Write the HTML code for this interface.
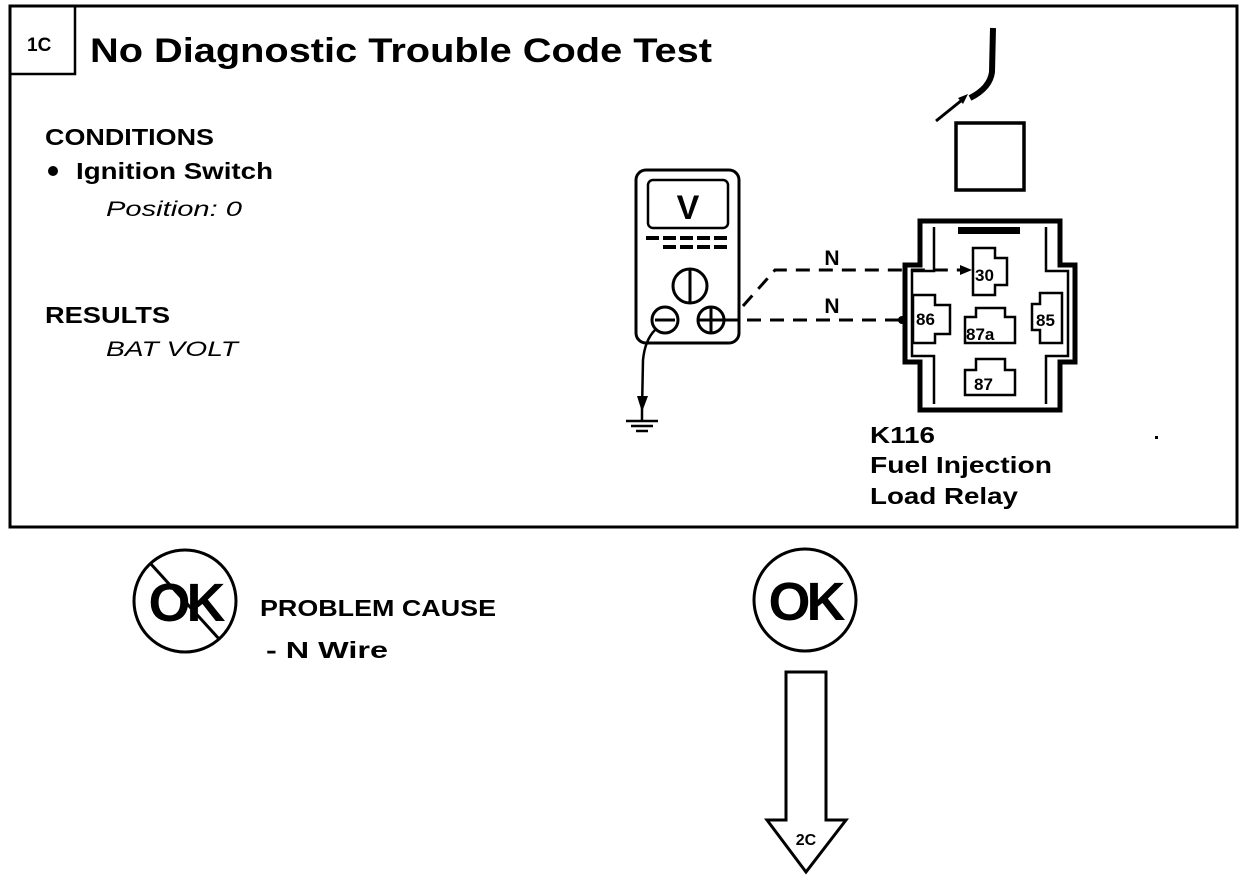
<!DOCTYPE html>
<html><head><meta charset="utf-8"><style>
html,body{margin:0;padding:0;background:#fff;}
svg{display:block;}
text{font-family:"Liberation Sans",Arial,sans-serif;fill:#000;}
</style></head><body>
<svg width="1248" height="880" viewBox="0 0 1248 880" xmlns="http://www.w3.org/2000/svg">
<rect x="10" y="6" width="1227" height="521" fill="none" stroke="#000" stroke-width="3"/>
<rect x="10" y="6" width="65" height="68" fill="none" stroke="#000" stroke-width="2.5"/>
<text x="27" y="51" font-size="19" font-weight="bold">1C</text>
<text x="90" y="62" font-size="34" font-weight="bold" textLength="622" lengthAdjust="spacingAndGlyphs">No Diagnostic Trouble Code Test</text>

<text x="45" y="145" font-size="23" font-weight="bold" textLength="169" lengthAdjust="spacingAndGlyphs">CONDITIONS</text>
<circle cx="53" cy="171" r="5"/>
<text x="76" y="179" font-size="23" font-weight="bold" textLength="197" lengthAdjust="spacingAndGlyphs">Ignition Switch</text>
<text x="106" y="216" font-size="21" font-style="italic" textLength="136" lengthAdjust="spacingAndGlyphs">Position: 0</text>
<text x="45" y="323" font-size="23" font-weight="bold" textLength="125" lengthAdjust="spacingAndGlyphs">RESULTS</text>
<text x="106" y="356" font-size="21" font-style="italic" textLength="132" lengthAdjust="spacingAndGlyphs">BAT VOLT</text>

<path d="M993 28 L992 72 Q990 88 970 98" fill="none" stroke="#000" stroke-width="6"/>
<line x1="936" y1="121" x2="962" y2="100" stroke="#000" stroke-width="3"/>
<polygon points="968,94 958,98 963,104" fill="#000"/>
<rect x="956" y="123" width="68" height="67" fill="none" stroke="#000" stroke-width="3.5"/>

<path d="M920 221 H1060 V265 H1075 V362 H1060 V410 H920 V362 H905 V265 H920 Z" fill="none" stroke="#000" stroke-width="5"/>
<path d="M934 227 V271 H912 V356 H934 V404" fill="none" stroke="#000" stroke-width="2.5"/>
<path d="M1046 227 V271 H1068 V356 H1046 V404" fill="none" stroke="#000" stroke-width="2.5"/>
<rect x="958" y="227" width="62" height="7" fill="#000"/>
<path d="M973 248 H995 V258 H1007 V285 H995 V295 H973 Z" fill="none" stroke="#000" stroke-width="2.5"/>
<text x="975" y="281" font-size="17" font-weight="bold">30</text>
<path d="M913 295 H935 V305 H950 V334 H935 V343 H913 Z" fill="none" stroke="#000" stroke-width="2.5"/>
<text x="916" y="325" font-size="17" font-weight="bold">86</text>
<path d="M1062 293 H1040 V304 H1032 V330 H1040 V343 H1062 Z" fill="none" stroke="#000" stroke-width="2.5"/>
<text x="1036" y="326" font-size="17" font-weight="bold">85</text>
<path d="M965 343 V317 H976 V308 H1005 V317 H1015 V343 Z" fill="none" stroke="#000" stroke-width="2.5"/>
<text x="966" y="340" font-size="17" font-weight="bold">87a</text>
<path d="M965 395 V370 H976 V359 H1005 V370 H1015 V395 Z" fill="none" stroke="#000" stroke-width="2.5"/>
<text x="974" y="390" font-size="17" font-weight="bold">87</text>

<rect x="636" y="170" width="103" height="173" rx="10" fill="none" stroke="#000" stroke-width="3"/>
<rect x="648" y="180" width="80" height="48" rx="5" fill="none" stroke="#000" stroke-width="2.5"/>
<text x="688" y="219" font-size="34" font-weight="bold" text-anchor="middle">V</text>
<g fill="#000">
<rect x="646" y="236" width="13" height="4"/><rect x="663" y="236" width="13" height="4"/><rect x="680" y="236" width="13" height="4"/><rect x="697" y="236" width="13" height="4"/><rect x="714" y="236" width="13" height="4"/>
<rect x="663" y="245" width="13" height="4"/><rect x="680" y="245" width="13" height="4"/><rect x="697" y="245" width="13" height="4"/><rect x="714" y="245" width="13" height="4"/>
</g>
<circle cx="690" cy="286" r="17" fill="none" stroke="#000" stroke-width="3"/>
<line x1="690" y1="270" x2="690" y2="302" stroke="#000" stroke-width="3"/>
<circle cx="665" cy="320" r="13" fill="none" stroke="#000" stroke-width="3"/>
<line x1="655" y1="320" x2="675" y2="320" stroke="#000" stroke-width="3"/>
<circle cx="711" cy="320" r="13" fill="none" stroke="#000" stroke-width="3"/>
<line x1="698" y1="320" x2="724" y2="320" stroke="#000" stroke-width="3"/>
<line x1="711" y1="307" x2="711" y2="333" stroke="#000" stroke-width="3"/>

<path d="M743 306 L775 270 H962" fill="none" stroke="#000" stroke-width="3" stroke-dasharray="14,9"/>
<polygon points="972,270 960,265 960,275" fill="#000"/>
<path d="M724 320 H905" fill="none" stroke="#000" stroke-width="3" stroke-dasharray="14,9"/>
<circle cx="902" cy="320" r="4"/>
<text x="832" y="265" font-size="21" font-weight="bold" text-anchor="middle">N</text>
<text x="832" y="313" font-size="21" font-weight="bold" text-anchor="middle">N</text>

<path d="M655 330 Q645 340 643 360 L642 410" fill="none" stroke="#000" stroke-width="2.5"/>
<polygon points="637,396 648,396 642,412" fill="#000"/>
<line x1="642" y1="410" x2="642" y2="420" stroke="#000" stroke-width="2.5"/>
<line x1="626" y1="421" x2="658" y2="421" stroke="#000" stroke-width="2.5"/>
<line x1="631" y1="426" x2="653" y2="426" stroke="#000" stroke-width="2.5"/>
<line x1="636" y1="431" x2="648" y2="431" stroke="#000" stroke-width="2.5"/>

<text x="870" y="443" font-size="23" font-weight="bold" textLength="65" lengthAdjust="spacingAndGlyphs">K116</text>
<text x="870" y="473" font-size="23" font-weight="bold" textLength="182" lengthAdjust="spacingAndGlyphs">Fuel Injection</text>
<text x="870" y="504" font-size="23" font-weight="bold" textLength="148" lengthAdjust="spacingAndGlyphs">Load Relay</text>
<rect x="1155" y="436" width="3" height="3" fill="#000"/>

<circle cx="185" cy="601" r="51" fill="none" stroke="#000" stroke-width="3"/>
<text x="185" y="621" font-size="54" font-weight="bold" text-anchor="middle" letter-spacing="-4">OK</text>
<line x1="150" y1="563" x2="220" y2="640" stroke="#000" stroke-width="3"/>
<text x="260" y="616" font-size="23" font-weight="bold" textLength="236" lengthAdjust="spacingAndGlyphs">PROBLEM CAUSE</text>
<text x="266" y="658" font-size="23" font-weight="bold" textLength="122" lengthAdjust="spacingAndGlyphs">-  N  Wire</text>

<circle cx="805" cy="600" r="51" fill="none" stroke="#000" stroke-width="3"/>
<text x="805" y="620" font-size="54" font-weight="bold" text-anchor="middle" letter-spacing="-4">OK</text>

<path d="M786 672 H826 V820 H846 L806 872 L767 820 H786 Z" fill="none" stroke="#000" stroke-width="3"/>
<text x="806" y="845" font-size="16" font-weight="bold" text-anchor="middle">2C</text>
</svg>
</body></html>
